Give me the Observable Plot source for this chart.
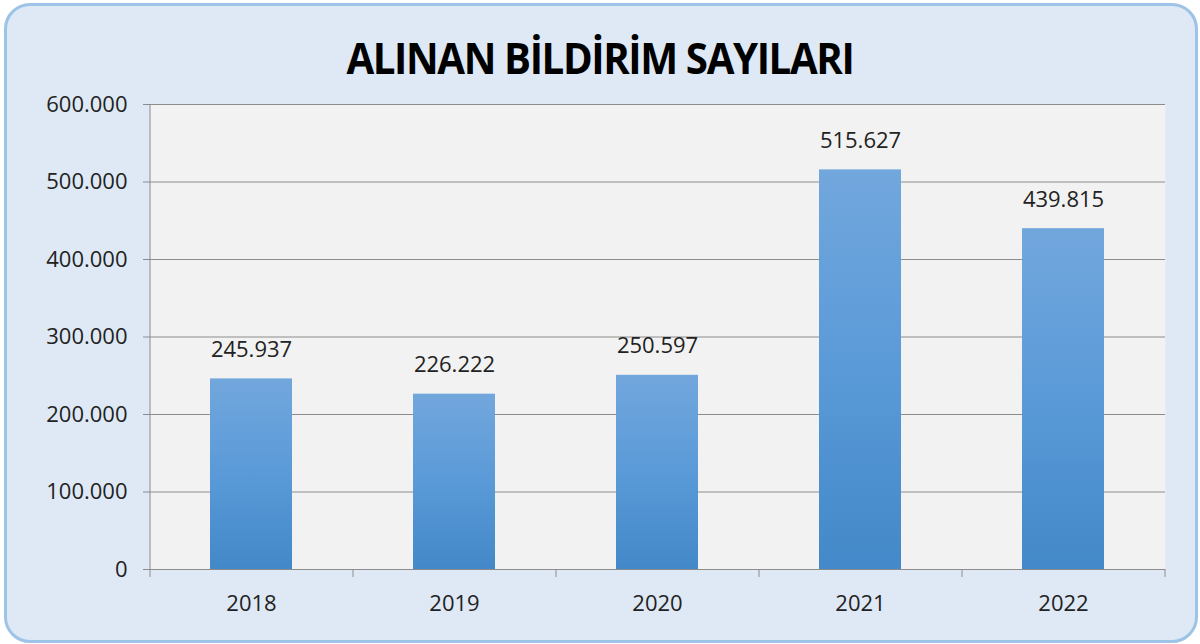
<!DOCTYPE html>
<html>
<head>
<meta charset="utf-8">
<script src="https://cdn.jsdelivr.net/npm/d3@7"></script>
<script src="https://cdn.jsdelivr.net/npm/@observablehq/plot@0.6"></script>
<style>
  html, body { margin: 0; padding: 0; width: 1200px; height: 644px; overflow: hidden; background: #ffffff; }
  #card {
    position: absolute; left: 4px; top: 3px; width: 1188px; height: 634px;
    border: 3px solid #9dc3e6; border-radius: 26px; background: #dee9f5;
  }
  #title {
    position: absolute; left: 0; top: 28px; width: 1200px; text-align: center;
    font-family: "Open Sans", sans-serif; font-weight: 700; font-size: 43px;
    letter-spacing: -1.5px; color: #000; line-height: 60px; white-space: nowrap;
  }
  #title span { display: inline-block; transform-origin: center; }
  #chart { position: absolute; left: 0; top: 0; }
</style>
</head>
<body>
<div id="card"></div>
<div id="title"><span>ALINAN BİLDİRİM SAYILARI</span></div>
<div id="chart"></div>
<script>
const title = "ALINAN BİLDİRİM SAYILARI";
const years = ["2018", "2019", "2020", "2021", "2022"];
const counts = [245937, 226222, 250597, 515627, 439815];
const yTicks = [0, 100000, 200000, 300000, 400000, 500000, 600000];

const data = years.map((y, i) => ({year: y, value: counts[i]}));
const tr = d3.formatLocale({decimal: ",", thousands: ".", grouping: [3], currency: ["", " ₺"]});
const fmt = tr.format(",d");

const span = document.querySelector("#title span");
span.textContent = title;
const w = span.getBoundingClientRect().width;
span.style.transform = `scaleX(${507 / w})`;

const W = 1200, H = 644;
const mL = 150, mR = 35, mT = 104, mB = 75;
const step = (W - mL - mR) / years.length;

const defs = () => {
  const g = d3.create("svg:defs");
  const lg = g.append("linearGradient").attr("id", "barGrad").attr("x1", 0).attr("y1", 0).attr("x2", 0).attr("y2", 1);
  lg.append("stop").attr("offset", "0%").attr("stop-color", "#72a7dd");
  lg.append("stop").attr("offset", "50%").attr("stop-color", "#5a9ad8");
  lg.append("stop").attr("offset", "100%").attr("stop-color", "#4388c8");
  const f = g.append("filter").attr("id", "shadow").attr("x", "-20%").attr("y", "-20%").attr("width", "140%").attr("height", "140%");
  f.append("feDropShadow").attr("dx", 1).attr("dy", 2).attr("stdDeviation", 2).attr("flood-color", "#000").attr("flood-opacity", 0.35);
  return g.node();
};

const chart = Plot.plot({
  width: W, height: H,
  marginLeft: mL, marginRight: mR, marginTop: mT, marginBottom: mB,
  style: {background: "transparent", fontFamily: "Open Sans, sans-serif", color: "#222"},
  x: {domain: years, paddingInner: 0.596, paddingOuter: 0.298, label: null},
  y: {domain: [0, 600000], label: null},
  marks: [
    defs,
    Plot.frame({fill: "#f2f2f2", stroke: null}),
    Plot.ruleY(yTicks, {stroke: "#8c8c8c", strokeWidth: 1}),
    Plot.axisY({ticks: yTicks, tickFormat: fmt, tickSize: 7, tickPadding: 16, stroke: "#8c8c8c", fontSize: 22, fill: "#222", label: null}),
    Plot.ruleX([years[0]], {x: d => d, dx: -step / 2, stroke: "#8c8c8c"}),
    Plot.barY(data, {x: "year", y: "value", fill: "url(#barGrad)", style: {filter: "url(#shadow)"}}),
    Plot.ruleY([0], {stroke: "#8c8c8c"}),
    Plot.axisX({tickSize: 8, dx: -step / 2, text: null, stroke: "#8c8c8c", label: null}),
    Plot.axisX({ticks: [years[years.length - 1]], tickSize: 8, dx: step / 2, text: null, stroke: "#8c8c8c", label: null}),
    Plot.axisX({tickSize: 0, tickPadding: 26, fontSize: 22, fill: "#222", label: null}),
    Plot.text(data, {x: "year", y: "value", text: d => fmt(d.value), dy: -29, fontSize: 22, fill: "#222"})
  ]
});
document.getElementById("chart").appendChild(chart);
</script>
</body>
</html>
